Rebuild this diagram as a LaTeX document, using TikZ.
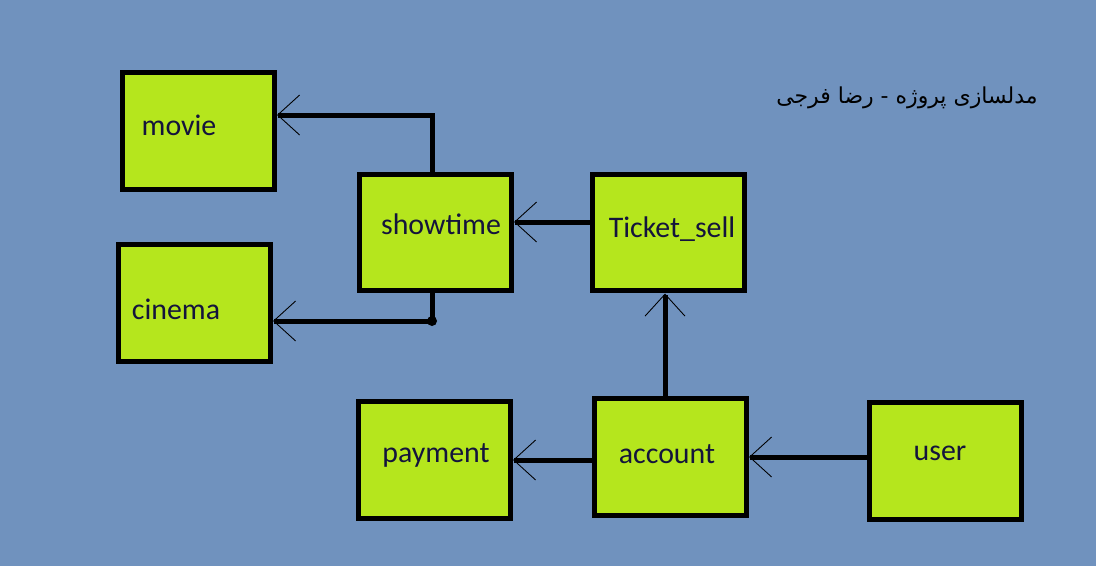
\documentclass[tikz,border=0pt]{standalone}
\usepackage{fontspec}
\setmainfont{Carlito}
\newfontfamily\persianfont[Script=Arabic]{DejaVu Sans}
\TeXXeTstate=1
\usepackage{xcolor}
\usetikzlibrary{arrows.meta,calc}

\definecolor{bgblue}{RGB}{112,146,190}
\definecolor{boxlime}{RGB}{181,230,29}
\definecolor{inkblue}{RGB}{20,20,60}

\tikzset{
    entity/.style={draw=black, line width=0.1cm, fill=boxlime,
        minimum width=3.04cm, minimum height=2.34cm, inner sep=0pt},
    caption/.style={text=inkblue, font=\fontsize{17}{20}\selectfont},
    link/.style={line width=0.1cm, -{Straight Barb[length=0.44cm, width=0.8cm, line width=0.5pt]}}
}

\begin{document}
\begin{tikzpicture}[x=0.02cm, y=-0.02cm]
    \fill[bgblue] (0,0) rectangle (1096,566);
    \useasboundingbox (0,0) rectangle (1096,566);

    % boxes
    \node[entity] (movie) at (198.5,131) {};
    \node[entity] (cinema) at (194.5,303) {};
    \node[entity] (showtime) at (435.5,232.5) {};
    \node[entity] (ticket) at (668.5,232.5) {};
    \node[entity] (payment) at (434.5,460) {};
    \node[entity] (account) at (670.5,457) {};
    \node[entity] (user) at (945.5,461) {};

    % texts
    \node[caption] (movie-t) at (179,125) {movie};
    \node[caption] (cinema-t) at (176,309) {cinema};
    \node[caption] (showtime-t) at (441,224) {showtime};
    \node[caption] (ticket-t) at (672,229) {Ticket\_sell};
    \node[caption] (payment-t) at (436,455) {payment};
    \node[caption] (account-t) at (667,454) {account};
    \node[caption] (user-t) at (940,453) {user};

    % links
    \draw[link] ([xshift=-0.07cm]showtime.north) |- ([yshift=0.32cm]movie.east);
    \coordinate (knee) at ([xshift=-0.07cm, yshift=-0.36cm]showtime.south |- cinema.east);
    \draw[link] ([xshift=-0.07cm]showtime.south) |- ([yshift=-0.36cm]cinema.east);
    \fill (knee) circle (0.1cm);
    \draw[link] ([yshift=0.21cm]ticket.west) -- ([yshift=0.21cm]showtime.east);
    \draw[link] ([xshift=-0.11cm]account.north) -- ([xshift=-0.11cm]account.north |- ticket.south);
    \draw[link] (account.west |- payment.east) -- (payment.east);
    \draw[link] (user.west |- account.east) -- (account.east);

    \node[text=black, font=\persianfont\fontsize{12.5}{15}\selectfont] (title) at (907,98)
        {\beginR مدلسازی پروژه - رضا فرجی\endR};
\end{tikzpicture}
\end{document}
